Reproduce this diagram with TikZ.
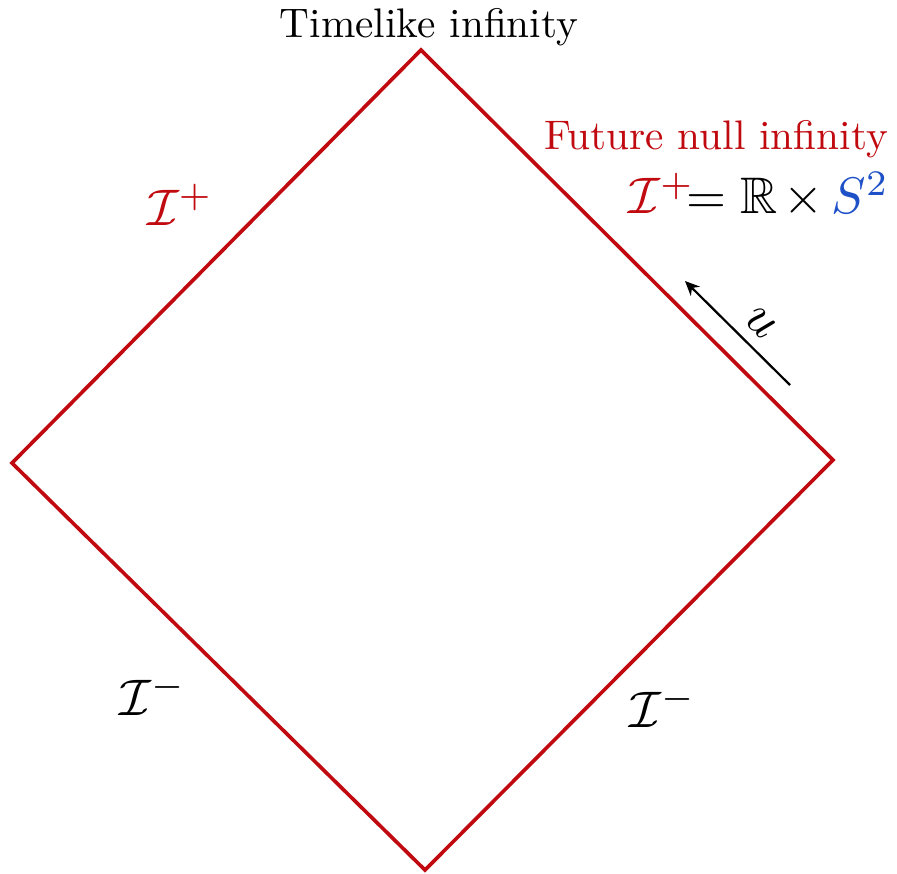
\documentclass[tikz,border=0pt]{standalone}
\usepackage{amsmath,amssymb}
\usetikzlibrary{arrows.meta}
\definecolor{penrose}{RGB}{192,10,15}
\definecolor{sphere}{RGB}{30,80,200}
\begin{document}
\begin{tikzpicture}[x=0.247pt,y=-0.247pt,
  edge/.style={penrose,line width=0.9pt,line join=miter},
  lbl/.style={inner sep=0pt,anchor=center},
  big/.style={lbl,scale=1.27},
  arr/.style={-{Stealth[length=3.6pt,width=3.2pt]},line width=0.55pt}]
\useasboundingbox (0,0) rectangle (897,874);
\coordinate (T) at (421,50);
\coordinate (R) at (833,460);
\coordinate (B) at (425,870);
\coordinate (L) at (12,463);
\draw[edge] (T) -- (R) -- (B) -- (L) -- cycle;
\node[lbl,scale=1.02] (ti) at (429,27) {Timelike infinity};
\node[lbl,text=penrose,scale=1.02] (fni) at (716,139) {Future null infinity};
\node[big] (eq) at (759,195) {$\color{penrose}\mathcal{I}^+\!{\color{black}=\mathbb{R}\mkern2mu{\times}}\,{\color{sphere}S^2}$};
\node[big,text=penrose] (ip) at (180,205) {$\mathcal{I}^+$};
\node[big] (iml) at (153,695) {$\mathcal{I}^-$};
\node[big] (imr) at (663,707) {$\mathcal{I}^-$};
\coordinate (a1) at (790,385);
\coordinate (a2) at (685,281);
\draw[arr] (a1) -- (a2);
\node[big,rotate=-45] (u) at (761,323) {$u$};
\end{tikzpicture}
\end{document}
